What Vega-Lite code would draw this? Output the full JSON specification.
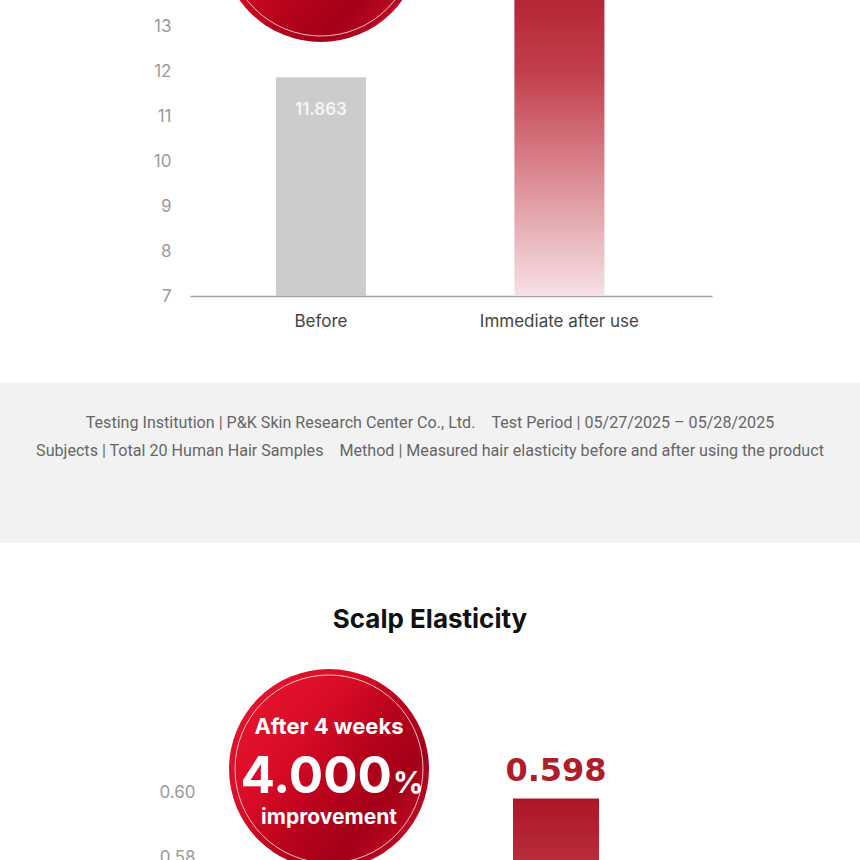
{
  "$schema": "https://vega.github.io/schema/vega-lite/v6.json",
  "width": 860,
  "height": 860,
  "autosize": "none",
  "padding": 0,
  "background": "#ffffff",
  "config": {"view": {"stroke": null}, "font": "Inter"},
  "resolve": {"scale": {"x": "independent", "y": "independent"}, "axis": {"x": "independent", "y": "independent"}},
  "layer": [
    {
      "data": {"values": [
        {"period": "Before", "value": 11.863, "label": "11.863"},
        {"period": "Immediate after use", "value": 14.6, "label": ""}
      ]},
      "layer": [
        {
          "data": {"values": [{"section": "info"}]},
          "mark": {"type": "rect", "color": "#f2f2f2"},
          "encoding": {
            "y": {"datum": 5.0667, "type": "quantitative", "title": null, "scale": {"domain": [-5.5333, 13.5778], "nice": false, "zero": false}},
            "y2": {"datum": 1.5111}
          }
        },
        {
          "data": {"values": [{"section": "info"}]},
          "mark": {"type": "text", "text": "Testing Institution | P&K Skin Research Center Co., Ltd.\u00a0\u00a0\u00a0\u00a0Test Period | 05/27/2025 – 05/28/2025", "font": "Roboto", "fontSize": 16.1, "color": "#666666", "baseline": "middle", "align": "center"},
          "encoding": {"y": {"datum": 4.178, "type": "quantitative", "title": null}}
        },
        {
          "data": {"values": [{"section": "info"}]},
          "mark": {"type": "text", "text": "Subjects | Total 20 Human Hair Samples\u00a0\u00a0\u00a0\u00a0Method | Measured hair elasticity before and after using the product", "font": "Roboto", "fontSize": 16.1, "color": "#666666", "baseline": "middle", "align": "center"},
          "encoding": {"y": {"datum": 3.556, "type": "quantitative", "title": null}}
        },
        {
          "transform": [{"filter": "datum.period == 'Before'"}],
          "mark": {"type": "bar", "color": "#cccccc"},
          "encoding": {
            "x": {"field": "period", "type": "nominal", "title": null,
              "scale": {"domain": ["Before", "Immediate after use"], "range": [190, 712], "paddingInner": 0.6226, "paddingOuter": 0.4057, "align": 0.444},
              "axis": {"orient": "bottom", "offset": -564, "title": null, "labelAngle": 0, "labelFontSize": 17, "labelColor": "#444444", "labelPadding": 17, "ticks": false, "domainColor": "#a3a3a3", "domainWidth": 1.5, "grid": false}},
            "y": {"field": "value", "type": "quantitative", "title": null,
              "scale": {"domain": [-5.5333, 13.5778], "nice": false, "zero": false},
              "axis": {"orient": "left", "offset": -190, "values": [7, 8, 9, 10, 11, 12, 13], "title": null, "domain": false, "ticks": false, "grid": false, "labelFontSize": 17, "labelColor": "#9a9a9a", "labelPadding": 19}},
            "y2": {"datum": 7}
          }
        },
        {
          "transform": [{"filter": "datum.period == 'Immediate after use'"}],
          "mark": {"type": "bar", "color": {"gradient": "linear", "x1": 0, "y1": 0, "x2": 0, "y2": 1, "stops": [
            {"offset": 0, "color": "#ad1525"}, {"offset": 0.35, "color": "#c2404d"}, {"offset": 0.65, "color": "#db8a93"}, {"offset": 1, "color": "#f6e1e4"}]}},
          "encoding": {
            "x": {"field": "period", "type": "nominal", "title": null},
            "y": {"field": "value", "type": "quantitative", "title": null},
            "y2": {"datum": 7}
          }
        },
        {
          "transform": [{"filter": "datum.period == 'Before'"}],
          "mark": {"type": "text", "color": "#f4f4f4", "fontSize": 17, "fontWeight": 600, "baseline": "middle", "dy": 33},
          "encoding": {
            "x": {"field": "period", "type": "nominal", "title": null},
            "y": {"field": "value", "type": "quantitative", "title": null},
            "text": {"field": "label"}
          }
        },
        {
          "transform": [{"filter": "datum.period == 'Before'"}],
          "mark": {"type": "point", "shape": "circle", "filled": true, "size": 40000, "opacity": 1, "strokeWidth": 0,
            "fill": {"gradient": "linear", "x1": 0, "y1": 0.1, "x2": 1, "y2": 0.9, "stops": [
              {"offset": 0, "color": "#e8162f"}, {"offset": 0.35, "color": "#d80b26"}, {"offset": 0.55, "color": "#b8031c"}, {"offset": 0.75, "color": "#a30019"}, {"offset": 1, "color": "#d0102a"}]}},
          "encoding": {
            "x": {"field": "period", "type": "nominal", "title": null},
            "y": {"datum": 14.867, "type": "quantitative", "title": null}
          }
        },
        {
          "transform": [{"filter": "datum.period == 'Before'"}],
          "mark": {"type": "point", "shape": "circle", "filled": false, "size": 35344, "stroke": "#ffffff", "strokeWidth": 1, "opacity": 0.75},
          "encoding": {
            "x": {"field": "period", "type": "nominal", "title": null},
            "y": {"datum": 14.867, "type": "quantitative", "title": null}
          }
        }
      ]
    },
    {
      "data": {"values": [
        {"period": "Before", "value": 0.575, "label": "0.575"},
        {"period": "After 4 weeks", "value": 0.598, "label": "0.598"}
      ]},
      "layer": [
        {
          "transform": [{"filter": "datum.period == 'Before'"}],
          "mark": {"type": "bar", "color": "#cccccc"},
          "encoding": {
            "x": {"field": "period", "type": "nominal", "title": null,
              "scale": {"domain": ["Before", "After 4 weeks"], "range": [214, 736], "paddingInner": 0.62115, "paddingOuter": 0.46037, "align": 0.3445},
              "axis": null},
            "y": {"field": "value", "type": "quantitative", "title": null,
              "scale": {"domain": [0.579077, 0.843692], "nice": false, "zero": false},
              "axis": {"orient": "left", "offset": -214, "values": [0.58, 0.6], "format": ".2f", "title": null, "domain": false, "ticks": false, "grid": false, "labelFontSize": 17, "labelColor": "#9a9a9a", "labelPadding": 19}},
            "y2": {"datum": 0.5}
          }
        },
        {
          "transform": [{"filter": "datum.period == 'After 4 weeks'"}],
          "mark": {"type": "bar", "color": {"gradient": "linear", "x1": 0, "y1": 0, "x2": 0, "y2": 1, "stops": [
            {"offset": 0, "color": "#ad1525"}, {"offset": 0.35, "color": "#c2404d"}, {"offset": 0.65, "color": "#db8a93"}, {"offset": 1, "color": "#f6e1e4"}]}},
          "encoding": {
            "x": {"field": "period", "type": "nominal", "title": null},
            "y": {"field": "value", "type": "quantitative", "title": null},
            "y2": {"datum": 0.5}
          }
        },
        {
          "transform": [{"filter": "datum.period == 'After 4 weeks'"}],
          "mark": {"type": "text", "color": "#b01c2a", "font": "DejaVu Sans", "fontSize": 32, "fontWeight": "bold", "baseline": "alphabetic", "dy": -18},
          "encoding": {
            "x": {"field": "period", "type": "nominal", "title": null},
            "y": {"field": "value", "type": "quantitative", "title": null},
            "text": {"field": "label"}
          }
        },
        {
          "transform": [{"filter": "datum.period == 'Before'"}],
          "mark": {"type": "point", "shape": "circle", "filled": true, "size": 40000, "opacity": 1, "strokeWidth": 0,
            "fill": {"gradient": "linear", "x1": 0, "y1": 0.1, "x2": 1, "y2": 0.9, "stops": [
              {"offset": 0, "color": "#e8162f"}, {"offset": 0.35, "color": "#d80b26"}, {"offset": 0.55, "color": "#b8031c"}, {"offset": 0.75, "color": "#a30019"}, {"offset": 1, "color": "#d0102a"}]}},
          "encoding": {
            "x": {"field": "period", "type": "nominal", "title": null},
            "y": {"datum": 0.607077, "type": "quantitative", "title": null}
          }
        },
        {
          "transform": [{"filter": "datum.period == 'Before'"}],
          "mark": {"type": "point", "shape": "circle", "filled": false, "size": 35344, "stroke": "#ffffff", "strokeWidth": 1, "opacity": 0.75},
          "encoding": {
            "x": {"field": "period", "type": "nominal", "title": null},
            "y": {"datum": 0.607077, "type": "quantitative", "title": null}
          }
        },
        {
          "transform": [{"filter": "datum.period == 'Before'"}],
          "mark": {"type": "text", "text": "After 4 weeks", "color": "#ffffff", "fontSize": 22, "fontWeight": "bold", "baseline": "middle", "align": "center"},
          "encoding": {
            "x": {"field": "period", "type": "nominal", "title": null},
            "y": {"datum": 0.62, "type": "quantitative", "title": null}
          }
        },
        {
          "transform": [{"filter": "datum.period == 'Before'"}],
          "mark": {"type": "text", "text": "4.000", "color": "#ffffff", "fontSize": 51, "fontWeight": "bold", "baseline": "alphabetic", "align": "right", "dx": 63},
          "encoding": {
            "x": {"field": "period", "type": "nominal", "title": null},
            "y": {"datum": 0.599692, "type": "quantitative", "title": null}
          }
        },
        {
          "transform": [{"filter": "datum.period == 'Before'"}],
          "mark": {"type": "text", "text": "%", "color": "#ffffff", "fontSize": 30, "fontWeight": "bold", "baseline": "alphabetic", "align": "left", "dx": 64},
          "encoding": {
            "x": {"field": "period", "type": "nominal", "title": null},
            "y": {"datum": 0.599692, "type": "quantitative", "title": null}
          }
        },
        {
          "transform": [{"filter": "datum.period == 'Before'"}],
          "mark": {"type": "text", "text": "improvement", "color": "#ffffff", "fontSize": 21, "fontWeight": "bold", "baseline": "middle", "align": "center"},
          "encoding": {
            "x": {"field": "period", "type": "nominal", "title": null},
            "y": {"datum": 0.592, "type": "quantitative", "title": null}
          }
        },
        {
          "data": {"values": [{"section": "title"}]},
          "mark": {"type": "text", "text": "Scalp Elasticity", "color": "#111111", "fontSize": 26, "fontWeight": "bold", "baseline": "alphabetic", "align": "center"},
          "encoding": {
            "y": {"datum": 0.650462, "type": "quantitative", "title": null}
          }
        }
      ]
    }
  ]
}
